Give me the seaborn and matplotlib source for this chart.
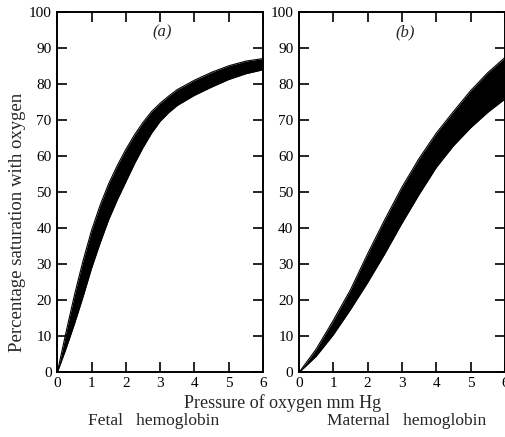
import numpy as np
import pandas as pd
import matplotlib
matplotlib.use('Agg')
import matplotlib.pyplot as plt
import seaborn as sns

# ============================================================================
# DATA
# ============================================================================

fetal_pressure = [0, 0.25, 0.5, 0.75, 1.0, 1.25, 1.5, 1.75, 2.0, 2.25, 2.5, 2.75,
                  3.0, 3.25, 3.5, 4.0, 4.5, 5.0, 5.5, 6.0]
fetal_upper = [0, 11, 21.5, 31, 39.5, 46.5, 52.5, 57.5, 62, 66, 69.5, 72.5,
               74.8, 76.8, 78.6, 81.2, 83.4, 85.2, 86.5, 87.2]
fetal_lower = [0, 6.5, 13.5, 21, 29, 36, 42.5, 48, 53, 58, 62.5, 66.5,
               69.8, 72.2, 74.2, 77.0, 79.3, 81.4, 83.0, 84.1]

maternal_pressure = [0, 0.5, 1.0, 1.5, 2.0, 2.5, 3.0, 3.5, 4.0, 4.5, 5.0, 5.5, 6.0]
maternal_upper = [0, 6.5, 14.5, 23, 33, 42.5, 51.5, 59.5, 66.5, 72.5, 78.3, 83.3, 87.5]
maternal_lower = [0, 4.5, 10.5, 17.5, 25, 33, 41.5, 49.5, 57, 63, 68, 72.3, 76]

x_ticks = [0, 1, 2, 3, 4, 5, 6]
y_ticks = [0, 10, 20, 30, 40, 50, 60, 70, 80, 90, 100]

panel_labels = ['(a)', '(b)']
panel_names = ['Fetal   hemoglobin', 'Maternal   hemoglobin']

# ============================================================================
# STYLE
# ============================================================================

sns.set_theme(style='ticks')
plt.rcParams['font.family'] = ['Liberation Serif', 'DejaVu Serif']
plt.rcParams['axes.linewidth'] = 1.4

fig = plt.figure(figsize=(5.06, 4.37), dpi=100)
ax_a = fig.add_axes([0.1132, 0.1476, 0.4067, 0.8238])
ax_b = fig.add_axes([0.5909, 0.1476, 0.4071, 0.8238])

bands = [
    (ax_a, fetal_pressure, fetal_upper, fetal_lower),
    (ax_b, maternal_pressure, maternal_upper, maternal_lower),
]

for ax, px, up, lo in bands:
    df = pd.DataFrame({
        'pressure': px * 2,
        'saturation': up + lo,
        'edge': ['upper'] * len(px) + ['lower'] * len(px),
    })
    sns.lineplot(data=df, x='pressure', y='saturation', units='edge',
                 estimator=None, color='black', lw=0.8, ax=ax, legend=False)
    ax.fill_between(px, lo, up, color='black', lw=0)

    ax.set_xlim(0, 6)
    ax.set_ylim(0, 100)
    ax.set_xticks(x_ticks)
    ax.set_yticks(y_ticks)
    ax.set_xlabel('')
    ax.set_ylabel('')
    ax.tick_params(axis='both', direction='in', length=7, width=1.2,
                   labelsize=11, colors='black', pad=4)
    ax.tick_params(axis='x', top=True, pad=3)
    ax.tick_params(axis='y', right=True)
    for s in ax.spines.values():
        s.set_visible(True)
        s.set_color('black')

for ax, lab, xc in zip([ax_a, ax_b], panel_labels, [0.32, 0.80]):
    fig.text(xc, 0.925, lab, ha='center', va='center', fontsize=12, style='italic')

fig.text(0.034, 0.49, 'Percentage saturation with oxygen', rotation=90,
         ha='center', va='center', fontsize=13.5)
fig.text(0.558, 0.077, 'Pressure of oxygen mm Hg', ha='center', va='center', fontsize=13)
fig.text(0.303, 0.036, panel_names[0], ha='center', va='center', fontsize=12.5)
fig.text(0.803, 0.036, panel_names[1], ha='center', va='center', fontsize=12.5)

fig.savefig('out.png', dpi=100)
